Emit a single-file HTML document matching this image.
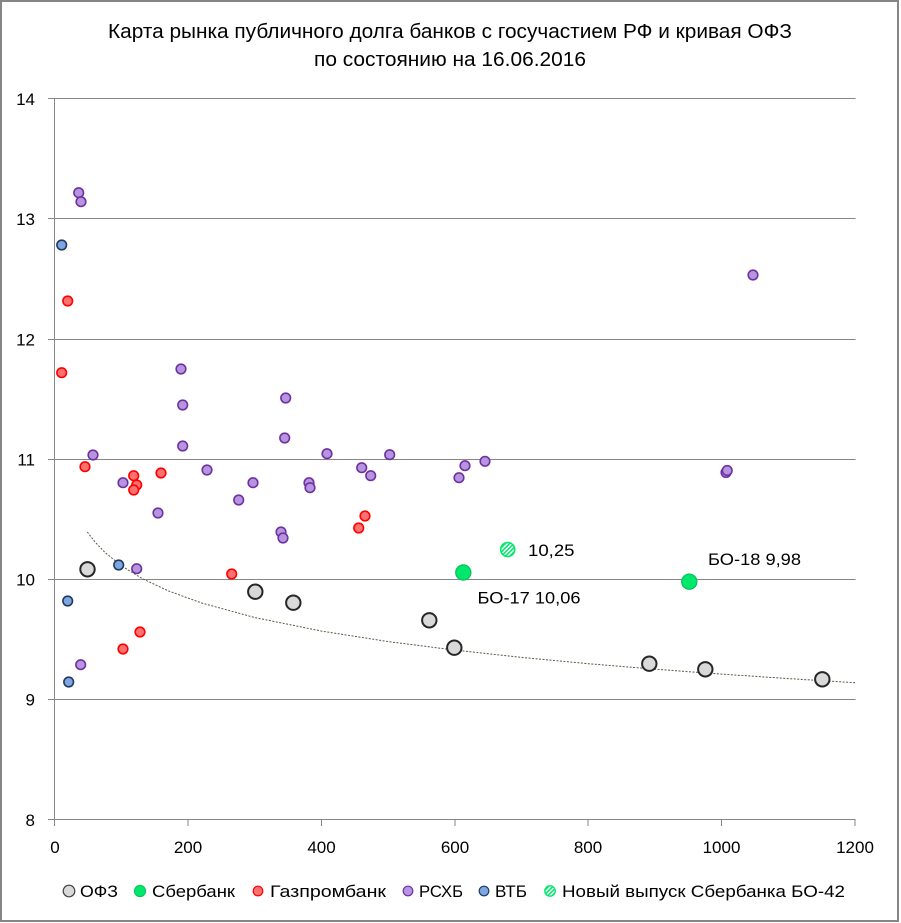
<!DOCTYPE html>
<html><head><meta charset="utf-8"><style>
html,body{margin:0;padding:0;background:#fff;}
svg{display:block;}
text{font-family:"Liberation Sans","DejaVu Sans",sans-serif;fill:#000;}
</style></head><body>
<svg width="901" height="923" viewBox="0 0 901 923" xmlns="http://www.w3.org/2000/svg">
<defs>
<pattern id="hatch" patternUnits="userSpaceOnUse" width="3" height="3" patternTransform="rotate(45)">
<rect width="3" height="3" fill="#fff"/>
<rect width="1.5" height="3" fill="#00E86B"/>
</pattern>
</defs>
<rect x="0" y="0" width="901" height="923" fill="#fff"/>
<rect x="1" y="1" width="897" height="920" fill="none" stroke="#868686" stroke-width="2"/>

<!-- title -->
<text x="450" y="38" font-size="20" text-anchor="middle" textLength="684" lengthAdjust="spacingAndGlyphs">Карта рынка публичного долга банков с госучастием РФ и кривая ОФЗ</text>
<text x="450" y="66" font-size="20" text-anchor="middle" textLength="272" lengthAdjust="spacingAndGlyphs">по состоянию на 16.06.2016</text>

<!-- gridlines -->
<g stroke="#868686" stroke-width="1" shape-rendering="crispEdges">
<line x1="48" y1="98.5" x2="855.5" y2="98.5"/>
<line x1="48" y1="218.5" x2="855.5" y2="218.5"/>
<line x1="48" y1="339.5" x2="855.5" y2="339.5"/>
<line x1="48" y1="459.5" x2="855.5" y2="459.5"/>
<line x1="48" y1="579.5" x2="855.5" y2="579.5"/>
<line x1="48" y1="699.5" x2="855.5" y2="699.5"/>
<line x1="48" y1="819.5" x2="855.5" y2="819.5"/>
<line x1="54.5" y1="98" x2="54.5" y2="826"/>
<line x1="188" y1="819" x2="188" y2="826"/>
<line x1="321.5" y1="819" x2="321.5" y2="826"/>
<line x1="455" y1="819" x2="455" y2="826"/>
<line x1="588" y1="819" x2="588" y2="826"/>
<line x1="721.5" y1="819" x2="721.5" y2="826"/>
<line x1="855" y1="819" x2="855" y2="826"/>
</g>

<!-- y labels -->
<g font-size="17" text-anchor="end">
<text x="35" y="105">14</text>
<text x="35" y="225">13</text>
<text x="35" y="345.5">12</text>
<text x="35" y="465.5">11</text>
<text x="35" y="585.5">10</text>
<text x="35" y="705.5">9</text>
<text x="35" y="826">8</text>
</g>
<!-- x labels -->
<g font-size="17" text-anchor="middle">
<text x="55" y="853">0</text>
<text x="188" y="853">200</text>
<text x="321.5" y="853">400</text>
<text x="455" y="853">600</text>
<text x="588" y="853">800</text>
<text x="721.5" y="853">1000</text>
<text x="855" y="853">1200</text>
</g>

<!-- trend -->
<polyline fill="none" stroke="#595945" stroke-width="1" stroke-dasharray="2,1.5" points="87.3,532 95,542 105,552.5 121.7,566 141.7,578.3 168.3,590.9 201.7,603 255,617.6 321.7,631.1 388.3,641.6 455,650.1 521.7,657.4 588.3,663.7 655,669.2 721.7,674.1 788.3,678.6 855,682.7"/>

<!-- РСХБ -->
<g fill="#B695E0" stroke="#7030A0" stroke-width="1.6">
<circle cx="78.7" cy="192.7" r="4.8"/>
<circle cx="81" cy="201.7" r="4.8"/>
<circle cx="753" cy="275" r="4.8"/>
<circle cx="93" cy="455" r="4.8"/>
<circle cx="123" cy="482.7" r="4.8"/>
<circle cx="158" cy="513" r="4.8"/>
<circle cx="181" cy="369" r="4.8"/>
<circle cx="182.7" cy="405" r="4.8"/>
<circle cx="182.7" cy="446" r="4.8"/>
<circle cx="207" cy="470" r="4.8"/>
<circle cx="238.7" cy="500" r="4.8"/>
<circle cx="253" cy="482.7" r="4.8"/>
<circle cx="285.7" cy="398" r="4.8"/>
<circle cx="284.7" cy="438" r="4.8"/>
<circle cx="281" cy="532" r="4.8"/>
<circle cx="283" cy="538" r="4.8"/>
<circle cx="327" cy="453.7" r="4.8"/>
<circle cx="309" cy="482.7" r="4.8"/>
<circle cx="310" cy="487.7" r="4.8"/>
<circle cx="361.7" cy="467.7" r="4.8"/>
<circle cx="370.7" cy="475.7" r="4.8"/>
<circle cx="389.7" cy="454.7" r="4.8"/>
<circle cx="136.7" cy="568.7" r="4.8"/>
<circle cx="80.7" cy="664.7" r="4.8"/>
<circle cx="459" cy="477.7" r="4.8"/>
<circle cx="465" cy="465.7" r="4.8"/>
<circle cx="485" cy="461.3" r="4.8"/>
<circle cx="726" cy="472.5" r="4.8"/>
<circle cx="727.2" cy="470.5" r="4.8"/>
</g>

<!-- Газпромбанк -->
<g fill="#FF7070" stroke="#FF0000" stroke-width="1.6">
<circle cx="67.7" cy="301" r="4.8"/>
<circle cx="61.7" cy="372.7" r="4.8"/>
<circle cx="85" cy="466.7" r="4.8"/>
<circle cx="133.7" cy="475.7" r="4.8"/>
<circle cx="136.7" cy="485" r="4.8"/>
<circle cx="133.7" cy="490" r="4.8"/>
<circle cx="161" cy="473" r="4.8"/>
<circle cx="365" cy="516" r="4.8"/>
<circle cx="358.7" cy="528" r="4.8"/>
<circle cx="231.7" cy="574" r="4.8"/>
<circle cx="140" cy="632" r="4.8"/>
<circle cx="123" cy="649" r="4.8"/>
</g>

<!-- ВТБ -->
<g fill="#7EA6E0" stroke="#1F3A60" stroke-width="1.6">
<circle cx="61.7" cy="245" r="4.8"/>
<circle cx="118.7" cy="565" r="4.8"/>
<circle cx="67.7" cy="601" r="4.8"/>
<circle cx="68.7" cy="682" r="4.8"/>
</g>

<!-- ОФЗ -->
<g fill="#D9D9D9" stroke="#262626" stroke-width="2">
<circle cx="87.5" cy="569.3" r="7.2"/>
<circle cx="255.3" cy="591.7" r="7.2"/>
<circle cx="293.3" cy="602.7" r="7.2"/>
<circle cx="429.3" cy="620.3" r="7.2"/>
<circle cx="454.3" cy="647.7" r="7.2"/>
<circle cx="649.3" cy="663.7" r="7.2"/>
<circle cx="705.3" cy="669.3" r="7.2"/>
<circle cx="822.3" cy="679.3" r="7.2"/>
</g>

<!-- Сбербанк -->
<g fill="#00E86B" stroke="#00C45A" stroke-width="1.2">
<circle cx="463.3" cy="572.5" r="7.6"/>
<circle cx="689.3" cy="581.7" r="7.6"/>
</g>
<circle cx="507.7" cy="549.5" r="7" fill="url(#hatch)" stroke="#00E86B" stroke-width="1.6"/>

<!-- data labels -->
<g font-size="17">
<text x="528" y="556" textLength="46.5" lengthAdjust="spacingAndGlyphs">10,25</text>
<text x="477.5" y="603.5" textLength="103" lengthAdjust="spacingAndGlyphs">БО-17 10,06</text>
<text x="708" y="565" textLength="93" lengthAdjust="spacingAndGlyphs">БО-18 9,98</text>
</g>

<!-- legend -->
<circle cx="69" cy="891" r="5.8" fill="#D9D9D9" stroke="#404040" stroke-width="1.2"/>
<circle cx="140" cy="891" r="5.6" fill="#00E86B" stroke="#00C45A" stroke-width="1"/>
<circle cx="258" cy="891" r="4.8" fill="#FF7070" stroke="#FF0000" stroke-width="1.2"/>
<circle cx="408" cy="891" r="4.8" fill="#B695E0" stroke="#7030A0" stroke-width="1.2"/>
<circle cx="484" cy="891" r="4.8" fill="#7EA6E0" stroke="#1F3A60" stroke-width="1.2"/>
<circle cx="550" cy="891" r="5.2" fill="url(#hatch)" stroke="#00E86B" stroke-width="1.4"/>
<g font-size="17">
<text x="80" y="897" textLength="38" lengthAdjust="spacingAndGlyphs">ОФЗ</text>
<text x="152" y="897" textLength="83" lengthAdjust="spacingAndGlyphs">Сбербанк</text>
<text x="270" y="897" textLength="116" lengthAdjust="spacingAndGlyphs">Газпромбанк</text>
<text x="419" y="897" textLength="44" lengthAdjust="spacingAndGlyphs">РСХБ</text>
<text x="495" y="897" textLength="32" lengthAdjust="spacingAndGlyphs">ВТБ</text>
<text x="562" y="897" textLength="283" lengthAdjust="spacingAndGlyphs">Новый выпуск Сбербанка БО-42</text>
</g>
</svg>
</body></html>
